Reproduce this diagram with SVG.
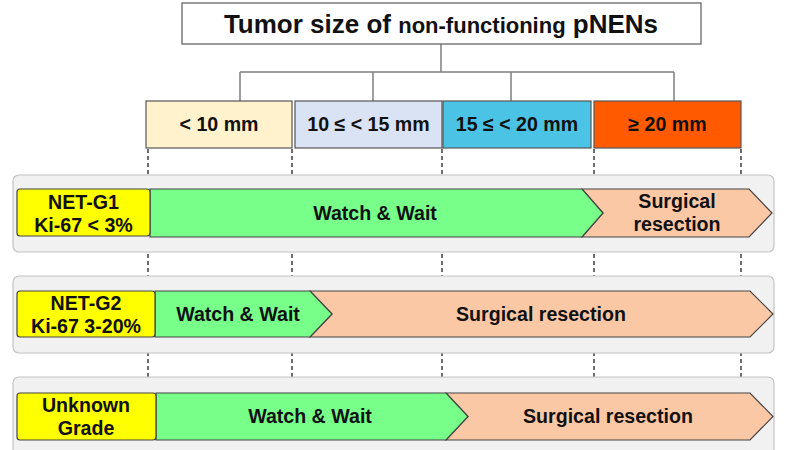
<svg xmlns="http://www.w3.org/2000/svg" width="800" height="450" viewBox="0 0 800 450">
<style>
text{font-family:"Liberation Sans",Arial,sans-serif;font-weight:bold;fill:#111;text-anchor:middle}
.t{font-size:19.6px}
.conn{stroke:#7f7f7f;stroke-width:1.5;fill:none}
.dash{stroke:#222;stroke-width:1.3;stroke-dasharray:4 3;fill:none}
.panel{fill:#f1f1f1;stroke:#c4c4c4;stroke-width:1.2}
.box{stroke:#555;stroke-width:1.2}
.lab{fill:#ffff00;stroke:#444;stroke-width:1.2}
.ww{fill:#77ff8a;stroke:#444;stroke-width:1.2}
.sr{fill:#fbc8a6;stroke:#444;stroke-width:1.2}
</style>
<rect width="800" height="450" fill="#fff"/>
<g id="connectors">
<path class="conn" d="M441,44V72M240,72H674M240,72V101M373,72V101M511,72V101M674,72V101"/>
<path class="dash" d="M148,149V450M292,149V450M442,149V450M594,149V450M741,149V450"/>
</g>
<g id="title">
<rect x="182" y="3" width="519" height="41" fill="#fff" stroke="#666" stroke-width="1.3"/>
<text x="441" y="33" font-size="26">Tumor size of <tspan font-size="22">non-functioning</tspan> pNENs</text>
</g>
<g id="size-lt10">
<rect class="box" x="146" y="101" width="146" height="47" fill="#fff2cc"/>
<text class="t" x="219" y="131">&lt; 10 mm</text>
</g>
<g id="size-10-15">
<rect class="box" x="295" y="101" width="147" height="47" fill="#dae3f3"/>
<text class="t" x="368.5" y="131">10 ≤ &lt; 15 mm</text>
</g>
<g id="size-15-20">
<rect class="box" x="443" y="101" width="148" height="47" fill="#4bc3e5"/>
<text class="t" x="517" y="131">15 ≤ &lt; 20 mm</text>
</g>
<g id="size-ge20">
<rect class="box" x="594" y="101" width="147" height="47" fill="#ff5a00"/>
<text class="t" x="667.5" y="131">≥ 20 mm</text>
</g>
<g id="row1">
<rect class="panel" x="13" y="175" width="761" height="77" rx="6"/>
<polygon class="sr" points="582,189 749,189 772,213 749,237 582,237 603,213"/>
<polygon class="ww" points="150,189 582,189 603,213 582,237 150,237"/>
<rect class="lab" x="17" y="189" width="133" height="47" rx="3"/>
<text class="t" x="83.5" y="209">NET-G1</text>
<text class="t" x="83.5" y="232">Ki-67 &lt; 3%</text>
<text class="t" x="375" y="220">Watch &amp; Wait</text>
<text class="t" x="677" y="208">Surgical</text>
<text class="t" x="677" y="231">resection</text>
</g>
<g id="row2">
<rect class="panel" x="13" y="276" width="761" height="77" rx="6"/>
<polygon class="sr" points="310,291 750,291 773,314 750,337 310,337 332,314"/>
<polygon class="ww" points="155,291 310,291 332,314 310,337 155,337"/>
<rect class="lab" x="17" y="291" width="138" height="46" rx="3"/>
<text class="t" x="86" y="310">NET-G2</text>
<text class="t" x="86" y="333">Ki-67 3-20%</text>
<text class="t" x="238" y="321">Watch &amp; Wait</text>
<text class="t" x="541" y="321">Surgical resection</text>
</g>
<g id="row3">
<rect class="panel" x="13" y="377" width="761" height="90" rx="6"/>
<polygon class="sr" points="446,393 750,393 773,416.5 750,440 446,440 468,416.5"/>
<polygon class="ww" points="156,393 446,393 468,416.5 446,440 156,440"/>
<rect class="lab" x="17" y="393" width="139" height="47" rx="3"/>
<text class="t" x="86" y="412">Unknown</text>
<text class="t" x="86" y="435">Grade</text>
<text class="t" x="310" y="423">Watch &amp; Wait</text>
<text class="t" x="608" y="423">Surgical resection</text>
</g>
</svg>
